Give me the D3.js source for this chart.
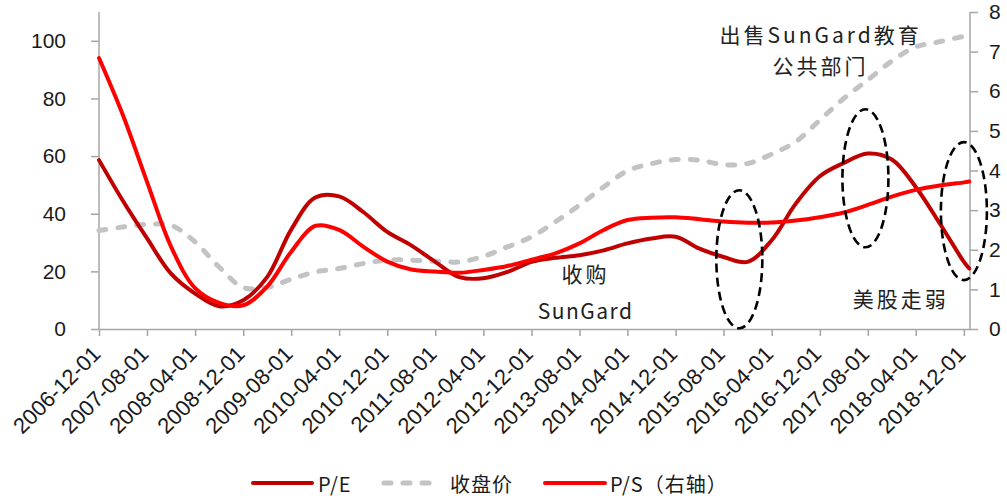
<!DOCTYPE html>
<html><head><meta charset="utf-8">
<script src="https://cdn.jsdelivr.net/npm/d3@7"></script>
<style>
body{margin:0;background:#fff;}
svg{display:block;}
</style></head>
<body>
<svg id="chart" width="1007" height="500"></svg>
<script>
// ---------- data ----------
const dates = ["2006-12-01","2007-04-01","2007-08-01","2007-12-01","2008-04-01","2008-08-01","2008-12-01",
"2009-04-01","2009-08-01","2009-12-01","2010-04-01","2010-08-01","2010-12-01","2011-04-01","2011-08-01",
"2011-12-01","2012-04-01","2012-08-01","2012-12-01","2013-04-01","2013-08-01","2013-12-01","2014-04-01",
"2014-08-01","2014-12-01","2015-04-01","2015-08-01","2015-12-01","2016-04-01","2016-08-01","2016-12-01",
"2017-04-01","2017-08-01","2017-12-01","2018-04-01","2018-08-01","2018-12-01","2018-12-28"];
const pe = [58.6,44.5,31.5,19.2,12.3,7.9,10,18,34.5,45.6,46,40.6,33.7,29,23.3,18,17.6,19.8,23.3,24.7,25.6,27.3,29.7,31.4,32.0,27.9,25,23.3,30.8,43.5,53,57.6,60.9,58.8,49.3,36.6,23.3,21];
const price = [34.2,35.4,36.3,36,30.2,21.5,14.4,14.4,17.3,19.8,21,22.7,23.9,23.9,23.5,23.3,25.2,28.5,32,37.2,43,49.3,54.9,57.4,58.8,58.6,57,57.4,60.7,65,72.5,80,86.4,93,97.9,99.7,101.6,102];
const ps = [6.84,5.4,3.72,2.08,1.03,0.66,0.6,1.07,1.95,2.6,2.5,2.08,1.70,1.5,1.45,1.42,1.49,1.59,1.75,1.91,2.16,2.5,2.75,2.81,2.82,2.77,2.71,2.68,2.69,2.74,2.82,2.94,3.13,3.34,3.51,3.62,3.70,3.72];
const xTickLabels = ["2006-12-01","2007-08-01","2008-04-01","2008-12-01","2009-08-01","2010-04-01","2010-12-01",
"2011-08-01","2012-04-01","2012-12-01","2013-08-01","2014-04-01","2014-12-01","2015-08-01","2016-04-01",
"2016-12-01","2017-08-01","2018-04-01","2018-12-01"];
const leftTicks = [0,20,40,60,80,100];
const rightTicks = [0,1,2,3,4,5,6,7,8];
const seriesNames = ["P/E","收盘价","P/S（右轴）"];
// annotations: [date, left-axis value]
const ellipses = [["2015-10-20",24.2],["2017-07-20",52.3],["2018-12-01",40.9]];
const notes = [
  {lines:["出售SunGard教育","公共部门"], date:"2016-12-05", value:[102.5,91.5]},
  {lines:["收购","SunGard"], date:"2013-09-01", value:[19.5,6.5]},
  {lines:["美股走弱"], date:"2018-01-15", value:[10.9]}
];

// ---------- chart ----------
const parse = d3.timeParse("%Y-%m-%d");
const svg = d3.select("#chart");
const L = 99, R = 970, T = 12, B = 329;
const x = d3.scaleTime().domain([parse("2006-12-01"), parse("2019-01-01")]).range([L, R]);
const yL = d3.scaleLinear().domain([0, 110]).range([B, T]);
const yR = d3.scaleLinear().domain([0, 8]).range([B, T]);
const axisColor = "#a6a6a6";
const tickFont = "'Liberation Sans', Arial, sans-serif";
const cjkFont = "'Noto Sans CJK SC', sans-serif";

// left axis
const gL = svg.append("g").attr("transform", `translate(${L},0)`)
  .call(d3.axisLeft(yL).tickValues(leftTicks).tickSize(8).tickPadding(25).tickSizeOuter(0));
// right axis
const gR = svg.append("g").attr("transform", `translate(${R},0)`)
  .call(d3.axisRight(yR).tickValues(rightTicks).tickSize(8).tickPadding(11).tickSizeOuter(0));
// x axis
const gX = svg.append("g").attr("transform", `translate(0,${B})`)
  .call(d3.axisBottom(x).tickValues(xTickLabels.map(parse)).tickFormat(d3.timeFormat("%Y-%m-%d")).tickSize(7).tickSizeOuter(0));

[gL, gR, gX].forEach(g => {
  g.select(".domain").attr("stroke", axisColor).attr("stroke-width", 1.5);
  g.selectAll(".tick line").attr("stroke", axisColor).attr("stroke-width", 1.5);
  g.selectAll("text").attr("fill", "#1a1a1a").style("font-family", tickFont).style("font-size", "21px");
});
gL.select(".domain").attr("d", `M0,${B}V${T}`);
gR.select(".domain").attr("d", `M0,${B}V${T}`);
gX.selectAll(".tick text")
  .style("font-size", "22px")
  .attr("text-anchor", "end")
  .attr("transform", "translate(-3,21) rotate(-45)")
  .attr("x", 0).attr("y", 0).attr("dy", "0.35em");

const pts = dates.map(parse);
const curve = d3.curveCatmullRom.alpha(0.5);
const lineL = d3.line().x((d,i) => x(pts[i])).y(d => yL(d)).curve(curve);
const lineR = d3.line().x((d,i) => x(pts[i])).y(d => yR(d)).curve(curve);

svg.append("path").datum(price).attr("d", lineL)
  .attr("fill","none").attr("stroke","#c3c3c3").attr("stroke-width",5)
  .attr("stroke-dasharray","7 12").attr("stroke-linecap","round");
svg.append("path").datum(pe).attr("d", lineL)
  .attr("fill","none").attr("stroke","#c00000").attr("stroke-width",4).attr("stroke-linecap","round");
svg.append("path").datum(ps).attr("d", lineR)
  .attr("fill","none").attr("stroke","#ff0000").attr("stroke-width",4).attr("stroke-linecap","round");

// ellipses
svg.selectAll(".ell").data(ellipses).enter().append("ellipse")
  .attr("cx", d => x(parse(d[0]))).attr("cy", d => yL(d[1]))
  .attr("rx", 23).attr("ry", 69)
  .attr("fill","none").attr("stroke","#000").attr("stroke-width",2.6)
  .attr("stroke-dasharray","9 5");

// notes
notes.forEach(n => {
  n.lines.forEach((t, i) => {
    svg.append("text").attr("x", x(parse(n.date))).attr("y", yL(n.value[i]))
      .attr("text-anchor","middle").attr("dominant-baseline","central")
      .style("font-family", cjkFont).style("font-size","21px")
      .style("letter-spacing", /^[A-Za-z]+$/.test(t) ? "1.5px" : "3px")
      .attr("fill","#222").text(t);
  });
});

// legend
const legend = [
  {name: seriesNames[0], color:"#c00000", dash:null, w:4, x1:253, x2:312, tx:318},
  {name: seriesNames[1], color:"#c3c3c3", dash:"7 12", w:5, x1:384, x2:440, tx:450},
  {name: seriesNames[2], color:"#ff0000", dash:null, w:4, x1:545, x2:605, tx:610}
];
const ly = 483;
legend.forEach(l => {
  svg.append("line").attr("x1", l.x1).attr("x2", l.x2).attr("y1", ly).attr("y2", ly)
    .attr("stroke", l.color).attr("stroke-width", l.w).attr("stroke-linecap","round")
    .attr("stroke-dasharray", l.dash);
  svg.append("text").attr("x", l.tx).attr("y", ly).attr("dominant-baseline","central")
    .style("font-family", cjkFont).style("font-size","20px").style("letter-spacing","1px")
    .attr("fill","#1a1a1a").text(l.name);
});
</script>
</body></html>
